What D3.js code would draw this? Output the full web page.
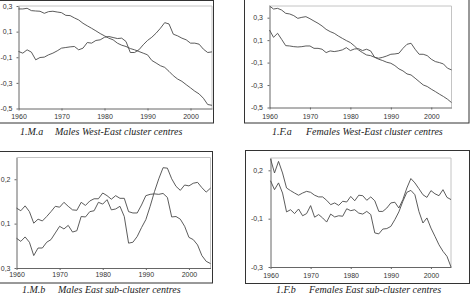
<!DOCTYPE html>
<html>
<head>
<meta charset="utf-8">
<script src="https://cdn.jsdelivr.net/npm/d3@7/dist/d3.min.js"></script>
<style>
body { margin: 0; background: #fff; }
svg { display: block; }
.tick text { font-family: "Liberation Sans", Arial, sans-serif; font-size: 7px; fill: #333; }
.caption { font-family: "Liberation Serif", "Times New Roman", serif; font-style: italic; font-size: 10px; fill: #222; }
</style>
</head>
<body>
<script>
// Years on the x axis
const years = [1960, 1961, 1962, 1963, 1964, 1965, 1966, 1967, 1968, 1969,
  1970, 1971, 1972, 1973, 1974, 1975, 1976, 1977, 1978, 1979,
  1980, 1981, 1982, 1983, 1984, 1985, 1986, 1987, 1988, 1989,
  1990, 1991, 1992, 1993, 1994, 1995, 1996, 1997, 1998, 1999,
  2000, 2001, 2002, 2003, 2004, 2005];
const xTicks = [1960, 1970, 1980, 1990, 2000];

// 1.M.a Males West-East cluster centres
const malesWE1 = [0.277, 0.277, 0.282, 0.264, 0.261, 0.259, 0.243, 0.256, 0.259, 0.253,
  0.248, 0.227, 0.225, 0.207, 0.191, 0.165, 0.145, 0.126, 0.106, 0.085,
  0.067, 0.049, 0.036, 0.010, -0.006, -0.016, -0.032, -0.042, -0.055, -0.068,
  -0.081, -0.125, -0.145, -0.166, -0.179, -0.210, -0.244, -0.270, -0.288, -0.314,
  -0.339, -0.365, -0.386, -0.420, -0.469, -0.475];
const malesWE2 = [-0.055, -0.068, -0.042, -0.060, -0.120, -0.102, -0.099, -0.081, -0.068, -0.050,
  -0.029, -0.024, -0.019, -0.016, -0.042, -0.029, 0.015, 0.010, 0.031, 0.036,
  0.056, 0.062, 0.054, 0.046, 0.049, 0.023, -0.063, -0.063, -0.042, -0.003,
  0.031, 0.056, 0.088, 0.126, 0.170, 0.160, 0.080, 0.067, 0.049, 0.036,
  0.010, 0.010, 0.002, -0.037, -0.063, -0.058];

// 1.F.a Females West-East cluster centres
const femalesWE1 = [0.404, 0.377, 0.383, 0.368, 0.339, 0.333, 0.318, 0.294, 0.303, 0.309,
  0.291, 0.270, 0.250, 0.226, 0.196, 0.176, 0.161, 0.137, 0.116, 0.096,
  0.078, 0.048, 0.013, -0.011, -0.032, -0.038, -0.053, -0.070, -0.082, -0.097,
  -0.106, -0.127, -0.156, -0.174, -0.201, -0.210, -0.239, -0.269, -0.299, -0.313,
  -0.337, -0.358, -0.381, -0.402, -0.426, -0.456];
const femalesWE2 = [0.190, 0.125, 0.161, 0.107, 0.051, 0.048, 0.042, 0.039, 0.042, 0.048,
  0.048, 0.027, 0.027, 0.019, -0.011, 0.004, -0.002, 0.004, 0.013, 0.033,
  0.007, 0.021, 0.024, 0.007, 0.019, 0.004, -0.053, -0.061, -0.053, -0.041,
  -0.026, -0.023, -0.017, 0.027, 0.063, 0.072, 0.019, -0.026, -0.026, -0.038,
  -0.070, -0.091, -0.100, -0.112, -0.150, -0.165];

// 1.M.b Males East sub-cluster centres
const malesE1 = [0.135, 0.129, 0.140, 0.127, 0.101, 0.110, 0.106, 0.116, 0.127, 0.139,
  0.137, 0.148, 0.139, 0.131, 0.130, 0.148, 0.141, 0.151, 0.156, 0.156,
  0.169, 0.163, 0.155, 0.163, 0.157, 0.157, 0.127, 0.124, 0.124, 0.142,
  0.163, 0.166, 0.167, 0.166, 0.168, 0.159, 0.115, 0.116, 0.110, 0.094,
  0.069, 0.064, 0.052, 0.028, 0.015, 0.010];
const malesE2 = [0.067, 0.060, 0.070, 0.058, 0.028, 0.045, 0.045, 0.058, 0.064, 0.079,
  0.094, 0.088, 0.096, 0.081, 0.084, 0.116, 0.115, 0.127, 0.129, 0.148,
  0.144, 0.154, 0.131, 0.133, 0.139, 0.116, 0.056, 0.058, 0.071, 0.091,
  0.109, 0.139, 0.172, 0.201, 0.226, 0.225, 0.201, 0.184, 0.175, 0.187,
  0.185, 0.191, 0.193, 0.181, 0.171, 0.180];

// 1.F.b Females East sub-cluster centres
const femalesE1 = [0.148, 0.089, 0.137, 0.089, 0.027, 0.016, 0.006, -0.003, 0.006, 0.013,
  0.009, -0.003, -0.010, -0.010, -0.024, -0.042, -0.035, -0.045, -0.028, -0.031,
  -0.008, -0.026, -0.003, -0.005, -0.024, -0.010, -0.026, -0.070, -0.070, -0.056,
  -0.035, -0.032, -0.056, -0.021, 0.027, 0.066, 0.048, 0.024, -0.001, -0.012,
  0.016, 0.003, -0.005, 0.020, -0.012, -0.021];
const femalesE2 = [0.057, 0.020, 0.048, 0.006, -0.072, -0.063, -0.079, -0.060, -0.088, -0.079,
  -0.046, -0.094, -0.083, -0.097, -0.114, -0.081, -0.093, -0.088, -0.090, -0.059,
  -0.067, -0.063, -0.077, -0.081, -0.070, -0.083, -0.159, -0.163, -0.143, -0.141,
  -0.132, -0.104, -0.072, -0.028, 0.009, 0.017, -0.001, -0.070, -0.118, -0.097,
  -0.139, -0.173, -0.208, -0.235, -0.256, -0.300];

// Y tick values and the labels printed next to them
const yTicksA = [0.3, 0.1, -0.1, -0.3, -0.5];
const yLabelsA = ['0,3', '0,1', '-0,1', '-0,3', '-0,5'];
const yTicksMb = [0.2, 0.1, 0.0];
const yLabelsMb = ['0,2', '0,1', '0,3'];
const yTicksFb = [0.1, -0.1, -0.3];
const yLabelsFb = ['0,2', '-0,1', '-0,3'];

const svg = d3.select('body').append('svg')
  .attr('width', 472)
  .attr('height', 296);

const panels = [
  { box: [-1, 0.5, 213.5, 123], left: 18.5, right: 212, top: 6, bottom: 108.5,
    yDomain: [-0.5, 0.3], yTicks: yTicksA, yLabels: yLabelsA, yPad: 4, xPad: 4,
    series: [malesWE1, malesWE2], tag: '1.M.a', tagX: 20, title: 'Males West-East cluster centres', titleX: 55, capY: 135 },
  { box: [244.5, -1, 469, 123], left: 269.5, right: 451.5, top: 6, bottom: 107.5,
    yDomain: [-0.5, 0.404], yTicks: yTicksA, yLabels: yLabelsA, yPad: 4.5, xPad: 4.5,
    series: [femalesWE1, femalesWE2], tag: '1.F.a', tagX: 272, title: 'Females West-East cluster centres', titleX: 306, capY: 135 },
  { box: [-1, 151.5, 212.5, 283], left: 16.5, right: 210.5, top: 157.5, bottom: 268,
    yDomain: [0, 0.249], yTicks: yTicksMb, yLabels: yLabelsMb, yPad: 4, xPad: 2.5,
    series: [malesE1, malesE2], tag: '1.M.b', tagX: 22, title: 'Males East sub-cluster centres', titleX: 58, capY: 293 },
  { box: [245.5, 150.5, 469.5, 283.5], left: 270.5, right: 451, top: 158, bottom: 267,
    yDomain: [-0.3, 0.151], yTicks: yTicksFb, yLabels: yLabelsFb, yPad: 5.5, xPad: 4,
    series: [femalesE1, femalesE2], tag: '1.F.b', tagX: 276, title: 'Females East sub-cluster centres', titleX: 309, capY: 293 }
];

panels.forEach(function(p) {
  let g = svg.append('g');

  // Outer box round the panel
  g.append('rect')
    .attr('x', p.box[0])
    .attr('y', p.box[1])
    .attr('width', p.box[2] - p.box[0])
    .attr('height', p.box[3] - p.box[1])
    .attr('fill', 'none')
    .attr('stroke', '#333')
    .attr('stroke-width', 1);

  let x = d3.scaleLinear().domain([1960, 2005]).range([p.left, p.right]);
  let y = d3.scaleLinear().domain(p.yDomain).range([p.bottom, p.top]);

  // Light frame on top and right of the plot area
  g.append('path')
    .attr('d', 'M' + p.left + ',' + p.top + 'H' + p.right + 'V' + p.bottom)
    .attr('fill', 'none')
    .attr('stroke', '#c4c4c4')
    .attr('stroke-width', 1);

  // Axes
  let xAxisCall = d3.axisBottom(x)
    .tickValues(xTicks)
    .tickFormat(d3.format('d'))
    .tickSize(2)
    .tickSizeOuter(0)
    .tickPadding(p.xPad);
  let xg = g.append('g')
    .attr('transform', 'translate(0,' + p.bottom + ')')
    .call(xAxisCall);

  let yAxisCall = d3.axisLeft(y)
    .tickValues(p.yTicks)
    .tickFormat(function(d, i) { return p.yLabels[i]; })
    .tickSize(2)
    .tickSizeOuter(0)
    .tickPadding(p.yPad);
  let yg = g.append('g')
    .attr('transform', 'translate(' + p.left + ',0)')
    .call(yAxisCall);

  [xg, yg].forEach(function(a) {
    a.select('.domain').attr('stroke', '#666');
    a.selectAll('.tick line').attr('stroke', '#666');
  });

  // The two cluster centre lines
  let line = d3.line()
    .x(function(d, i) { return x(years[i]); })
    .y(function(d) { return y(d); });

  p.series.forEach(function(s) {
    g.append('path')
      .datum(s)
      .attr('d', line)
      .attr('fill', 'none')
      .attr('stroke', '#4a4a4a')
      .attr('stroke-width', 0.9);
  });

  // Caption under the panel
  g.append('text')
    .attr('class', 'caption')
    .attr('x', p.tagX)
    .attr('y', p.capY)
    .text(p.tag);
  g.append('text')
    .attr('class', 'caption')
    .attr('x', p.titleX)
    .attr('y', p.capY)
    .text(p.title);
});
</script>
</body>
</html>
